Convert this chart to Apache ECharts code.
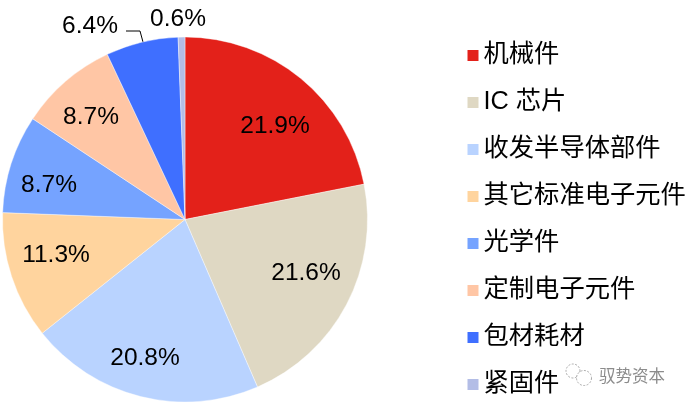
<!DOCTYPE html>
<html><head><meta charset="utf-8">
<style>html,body{margin:0;padding:0;background:#fff}#c{width:688px;height:407px}</style>
<script src="https://cdn.jsdelivr.net/npm/echarts@6/dist/echarts.min.js"></script>
</head><body><div id="c"></div>
<script>
const categories = ['机械件','IC 芯片','收发半导体部件','其它标准电子元件','光学件','定制电子元件','包材耗材','紧固件'];
const shares = [21.9,21.6,20.8,11.3,8.7,8.7,6.4,0.6];
const colors = ['#E3211A','#DFD8C3','#B9D3FF','#FFD49E','#75A3FF','#FFC6A5','#3F6FFF','#B3BDE6'];
const labelCenters = [[275,126],[306,273],[145,358],[56,255],[49,185],[91,117],[90,26],[178,19]];
const font = '"Liberation Sans","Noto Sans CJK SC",sans-serif';
const chart = echarts.init(document.getElementById('c'), null, {renderer:'canvas'});
chart.setOption({
  animation:false,
  backgroundColor:'#fff',
  legend:{
    orient:'vertical', left:465.5, top:39, itemWidth:13, itemHeight:13, itemGap:14,
    icon:'rect', selectedMode:false, padding:0,
    textStyle:{fontFamily:font,fontSize:25.3,color:'#000',lineHeight:27,padding:[6,0,0,-1]}
  },
  series:[{
    type:'pie', center:[185,219.5], radius:[0,182.5], startAngle:90, clockwise:true,
    avoidLabelOverlap:false,
    itemStyle:{borderColor:'#fff',borderWidth:0.4},
    label:{position:'outside',formatter:p=>p.value.toFixed(1)+'%',fontFamily:font,fontSize:24.5,color:'#000'},
    labelLine:{show:false},
    labelLayout:p=>({x:labelCenters[p.dataIndex][0],y:labelCenters[p.dataIndex][1],align:'center',verticalAlign:'middle'}),
    data:categories.map((name,i)=>({name,value:shares[i],itemStyle:{color:colors[i]}}))
  }],
  graphic:[
    {type:'polyline',shape:{points:[[126,31],[140,31],[143,42]]},style:{fill:'none',stroke:'#000',lineWidth:1}},
    {type:'text',left:599,top:369,style:{text:'驭势资本',fontFamily:font,fontSize:16.5,fill:'#8c8c8c'}},
    {type:'circle',shape:{cx:573,cy:371,r:7},style:{fill:'#fff',stroke:'#aaa',lineWidth:1,lineDash:[2,1.5]}},
    {type:'circle',shape:{cx:584,cy:378,r:7.5},style:{fill:'#fff',stroke:'#aaa',lineWidth:1,lineDash:[2,1.5]}}
  ]
});
</script></body></html>
